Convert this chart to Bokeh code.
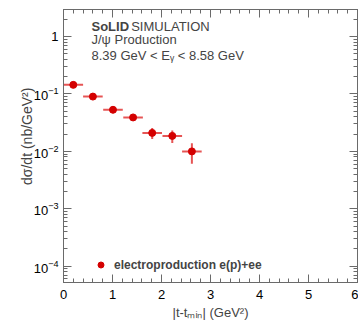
import math
from bokeh.plotting import figure
from bokeh.models import (ColumnDataSource, LinearAxis, LogAxis, Label, Legend, LegendItem,
                          BasicTicker, LogTicker, CustomJSTickFormatter)
from bokeh.embed import file_html
from bokeh.resources import INLINE

# ---- data ----
t_values = [0.2, 0.6, 1.01, 1.42, 1.81, 2.22, 2.62]       # |t - tmin| (GeV^2)
t_halfwidth = [0.2, 0.2, 0.2, 0.2, 0.2, 0.2, 0.2]
dsdt = [0.144, 0.090, 0.053, 0.039, 0.021, 0.0186, 0.0100]  # nb/GeV^2
dsdt_err = [0.004, 0.004, 0.003, 0.003, 0.0045, 0.0046, 0.0039]
x_limits = (0, 6)
y_limits = (5.2e-5, 2.96)
legend_label = "electroproduction e(p)+ee"

FONT = "Liberation Sans"
AX = "#6a6a6a"
RED = "#d40000"

src = ColumnDataSource(dict(
    x=t_values, y=dsdt,
    x0=[a - b for a, b in zip(t_values, t_halfwidth)],
    x1=[a + b for a, b in zip(t_values, t_halfwidth)],
    y0=[a - b for a, b in zip(dsdt, dsdt_err)],
    y1=[a + b for a, b in zip(dsdt, dsdt_err)],
))

p = figure(width=358, height=326, y_axis_type="log",
           x_range=x_limits, y_range=y_limits,
           output_backend="svg", toolbar_location=None,
           min_border_left=63, min_border_right=1, min_border_top=9, min_border_bottom=44)
p.xgrid.visible = False
p.ygrid.visible = False
p.outline_line_color = AX
p.background_fill_color = "white"
p.border_fill_color = "white"

def style_axis(ax, labels=True):
    ax.axis_line_color = AX
    ax.major_tick_line_color = AX
    ax.minor_tick_line_color = AX
    ax.major_tick_in = 8
    ax.major_tick_out = 0
    ax.minor_tick_in = 4
    ax.minor_tick_out = 0
    if labels:
        ax.major_label_text_font = FONT
        ax.major_label_text_font_size = "13px"
        ax.major_label_text_color = "black"
    else:
        ax.formatter = CustomJSTickFormatter(code="return ''")
        ax.major_label_standoff = 0

xt = BasicTicker(desired_num_ticks=6, num_minor_ticks=5)
yt = LogTicker(num_minor_ticks=10)

xa = p.xaxis[0]
xa.ticker = xt
style_axis(xa)
xa.major_label_standoff = 7
xa.axis_label = "|t-tₘᵢₙ| (GeV²)"
xa.axis_label_text_font = FONT
xa.axis_label_text_font_size = "13px"
xa.axis_label_text_font_style = "normal"
xa.axis_label_standoff = 3

ya = p.yaxis[0]
ya.ticker = yt
style_axis(ya)
ya.major_label_standoff = 5
ya.major_label_overrides = {1: "1"}
ya.axis_label = "\u00a0" * 5 + "dσ/dt (nb/GeV²)"
ya.axis_label_text_font = FONT
ya.axis_label_text_font_size = "14px"
ya.axis_label_text_font_style = "normal"
ya.axis_label_standoff = -4

top = LinearAxis(ticker=BasicTicker(desired_num_ticks=6, num_minor_ticks=5))
style_axis(top, labels=False)
p.add_layout(top, "above")
right = LogAxis(ticker=LogTicker(num_minor_ticks=10))
style_axis(right, labels=False)
p.add_layout(right, "right")

# error bars
p.segment(x0="x0", y0="y", x1="x1", y1="y", source=src, line_color="#e02a2a", line_width=2, line_alpha=0.8)
p.segment(x0="x", y0="y0", x1="x", y1="y1", source=src, line_color="#e02a2a", line_width=2, line_alpha=0.8)
pts = p.scatter(x="x", y="y", source=src, marker="circle", size=7, fill_color=RED, line_color=RED)

legend = Legend(items=[LegendItem(label=legend_label, renderers=[pts])],
                location=(30, 10), padding=0, margin=0, spacing=0,
                glyph_width=15, glyph_height=15, label_standoff=6,
                border_line_alpha=0, background_fill_alpha=0,
                label_text_font=FONT, label_text_font_size="12px", label_text_font_style="bold")
p.add_layout(legend)

# header text
p.add_layout(Label(x=28, y=248.7, x_units="screen", y_units="screen", text="SoLID",
                   text_font=FONT, text_font_size="13px", text_font_style="bold"))
p.add_layout(Label(x=67.7, y=248.7, x_units="screen", y_units="screen", text="SIMULATION",
                   text_font=FONT, text_font_size="13px"))
p.add_layout(Label(x=28, y=236, x_units="screen", y_units="screen", text="J/ψ Production",
                   text_font=FONT, text_font_size="13px"))
p.add_layout(Label(x=28, y=219.3, x_units="screen", y_units="screen",
                   text="8.39 GeV < Eᵧ < 8.58 GeV",
                   text_font=FONT, text_font_size="13px"))

open("out.html", "w").write(file_html(p, INLINE))
